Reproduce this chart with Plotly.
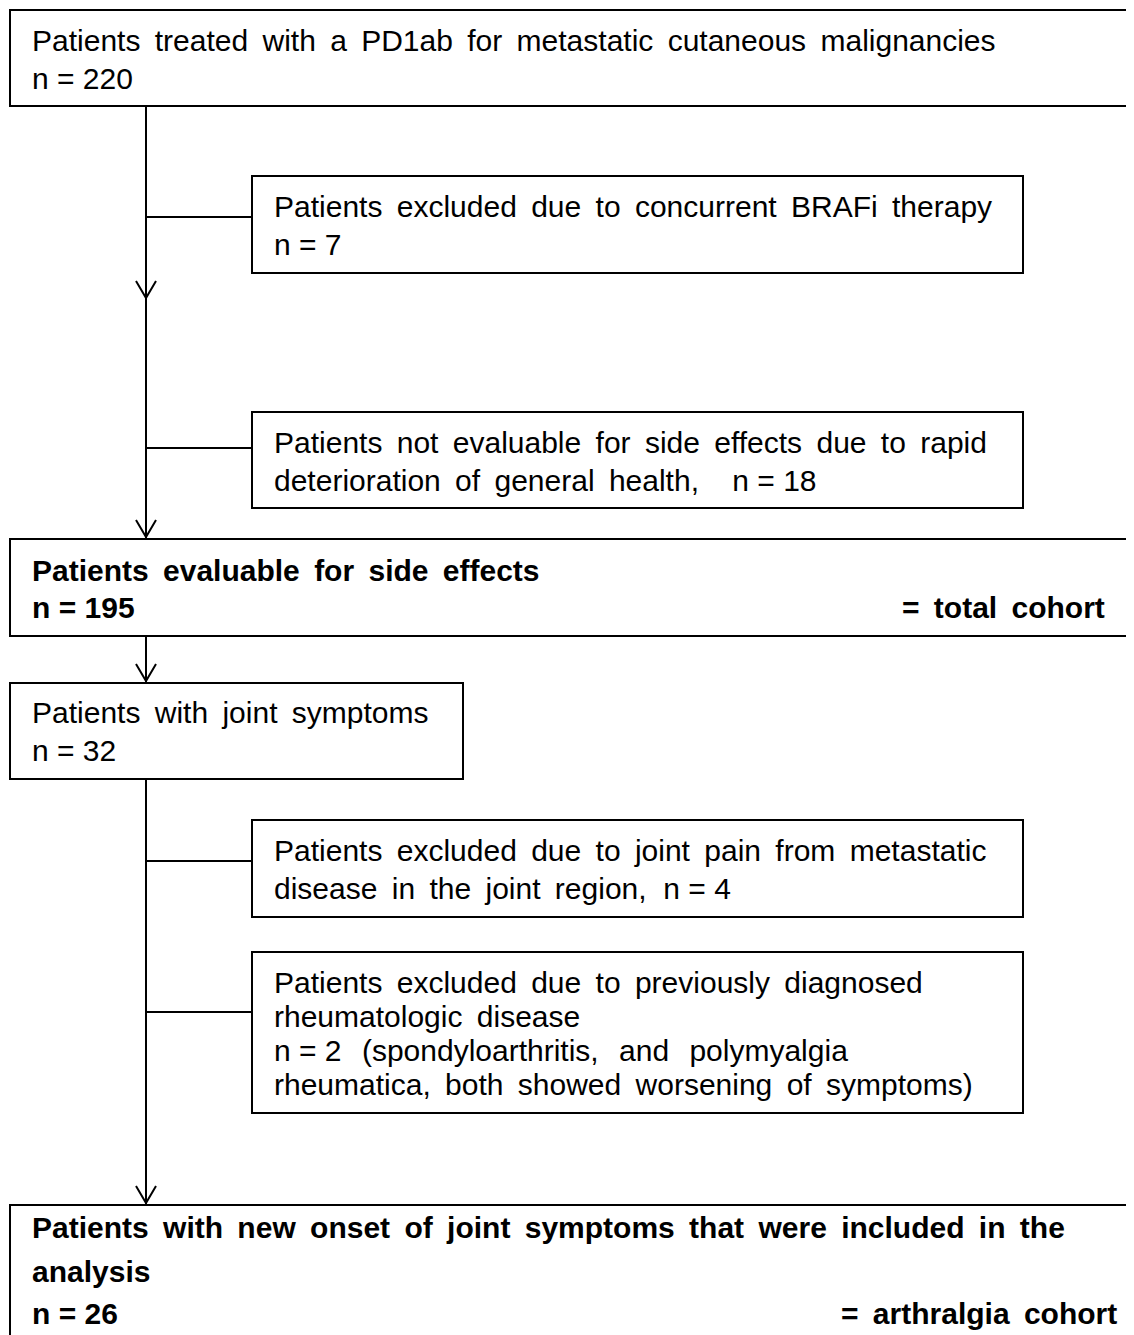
import re
import plotly.graph_objects as go

# ---- content ----
box_labels = ["start", "brafi", "not_eval", "evaluable", "joint", "metastatic", "rheum", "final"]
box_lines = [
    ["Patients treated with a PD1ab for metastatic cutaneous malignancies", "n = 220"],
    ["Patients excluded due to concurrent BRAFi therapy", "n = 7"],
    ["Patients not evaluable for side effects due to rapid", "deterioration of general health,    n = 18"],
    ["Patients evaluable for side effects", "n = 195"],
    ["Patients with joint symptoms", "n = 32"],
    ["Patients excluded due to joint pain from metastatic", "disease in the joint region,  n = 4"],
    ["Patients excluded due to previously diagnosed", "rheumatologic disease",
     "n = 2 (spondyloarthritis, and polymyalgia", "rheumatica, both showed worsening of symptoms)"],
    ["Patients with new onset of joint symptoms that were included in the", "analysis", "n = 26"],
]
box_bold = [False, False, False, True, False, False, False, True]
right_notes = {3: "= total cohort", 7: "= arthralgia cohort"}

# ---- layout geometry (page pixels) ----
W, H = 1134, 1335
OFF = 8  # default page body margin
rects = {  # x0, y0, x1, y1
    0: (10, 10, 1145, 106),
    1: (252, 176, 1023, 273),
    2: (252, 412, 1023, 508),
    3: (10, 539, 1145, 636),
    4: (10, 683, 463, 779),
    5: (252, 820, 1023, 917),
    6: (252, 952, 1023, 1113),
    7: (10, 1205, 1145, 1400),
}
baselines = {
    0: [50, 88],
    1: [216, 254],
    2: [452, 490],
    3: [580, 617],
    4: [722, 760],
    5: [860, 898],
    6: [992, 1026, 1060, 1094],
    7: [1237, 1281, 1323],
}
text_x = {0: 30, 1: 272, 2: 272, 3: 30, 4: 30, 5: 272, 6: 272, 7: 30}
note_right = {3: 1107, 7: 1119}
spine_x = 146
branches = [(217, 252), (448, 252), (861, 252), (1012, 252)]
segments = [(106, 539), (636, 683), (779, 1205)]
arrow_tips = [298, 537, 681, 1203]
wide_lines = {(6, 2): 2}  # lines with extra-wide word spacing

FS = 30
FONT = "Liberation Sans, Arial, sans-serif"
LW = 2
THIN = "\u2009"
SINGLE = r"(?<! ) (?! )"


def widen(s, k):
    return re.sub(SINGLE, " " + THIN * k, s)


def spread(s, k=1):
    # the source uses slightly widened word spacing; "n = N" parts keep normal spacing
    m = re.match(r"^(n = \d+)(.*)$", s)
    if m:
        head, rest = m.groups()
        return head + (widen(rest, k) if k > 1 else rest)
    m = re.match(r"^(.*?)(\s*)(n = .*)$", s)
    if m:
        pre, gap, tail = m.groups()
        return widen(pre, k) + gap + tail
    return widen(s, k)


fig = go.Figure()
shapes = []
for i, (x0, y0, x1, y1) in rects.items():
    shapes.append(dict(type="rect", x0=x0, y0=y0, x1=x1, y1=y1,
                       line=dict(color="black", width=LW), fillcolor="white", layer="above"))
for (ya, yb) in segments:
    shapes.append(dict(type="line", x0=spine_x, x1=spine_x, y0=ya, y1=yb,
                       line=dict(color="black", width=LW)))
for (yb, xb) in branches:
    shapes.append(dict(type="line", x0=spine_x, x1=xb, y0=yb, y1=yb,
                       line=dict(color="black", width=LW)))
for t in arrow_tips:
    shapes.append(dict(type="path",
                       path=f"M {spine_x-10} {t-17} L {spine_x} {t} L {spine_x+10} {t-17}",
                       line=dict(color="black", width=LW)))

annotations = []
for i, lines in enumerate(box_lines):
    for j, line in enumerate(lines):
        s = spread(line, wide_lines.get((i, j), 1))
        txt = f"<b>{s}</b>" if box_bold[i] else s
        annotations.append(dict(x=text_x[i], y=baselines[i][j] - 10, text=txt,
                                xanchor="left", yanchor="middle", showarrow=False,
                                font=dict(family=FONT, size=FS, color="black"),
                                xref="x", yref="y"))
for i, note in right_notes.items():
    annotations.append(dict(x=note_right[i], y=baselines[i][-1] - 10, text=f"<b>{spread(note)}</b>",
                            xanchor="right", yanchor="middle", showarrow=False,
                            font=dict(family=FONT, size=FS, color="black"),
                            xref="x", yref="y"))

fig.update_layout(
    width=W - OFF, height=H - OFF, margin=dict(l=0, r=0, t=0, b=0),
    paper_bgcolor="white", plot_bgcolor="white",
    xaxis=dict(range=[OFF, W], visible=False, fixedrange=True),
    yaxis=dict(range=[H, OFF], visible=False, fixedrange=True),
    shapes=shapes, annotations=annotations, showlegend=False,
)
fig.write_html("out.html")
